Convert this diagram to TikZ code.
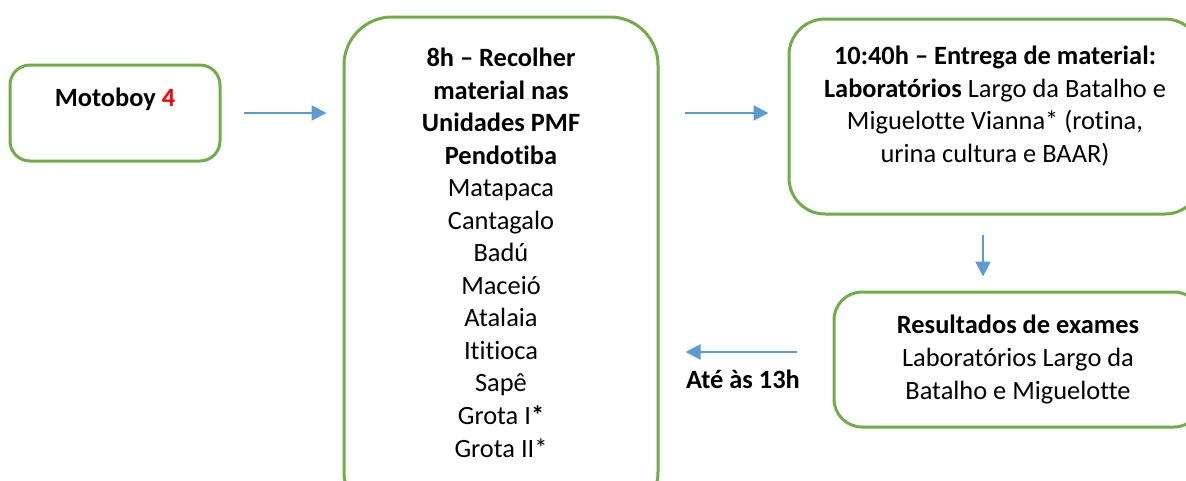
\documentclass[tikz,border=0pt]{standalone}
\usepackage{fontspec}
\setmainfont{Carlito}[Ligatures=NoCommon]
\usepackage{xcolor}
\usetikzlibrary{arrows.meta}
\definecolor{verde}{HTML}{70AD47}
\definecolor{azul}{HTML}{5B9BD5}
\definecolor{vermelho}{HTML}{FF0000}
\tikzset{
  caixa/.style={draw=verde, line width=2.25pt, fill=white, inner sep=0pt},
  texto/.style={inner sep=0pt, align=center, font=\fontsize{19.8pt}{24.4pt}\selectfont},
  seta/.style={draw=azul, line width=1.6pt, -{Triangle[length=11.25pt,width=11.25pt]}}
}

\begin{document}
\begin{tikzpicture}[x=0.75pt, y=-0.75pt]
  \useasboundingbox (0,0) rectangle (1186,480);
  \clip (0,0) rectangle (1186,480);

  % Motoboy box
  \node[caixa, rounded corners=15pt, minimum width=157.5pt, minimum height=72pt] (moto) at (115,113) {};
  \node[texto, anchor=base] (motoT) at (115,106) {\textbf{Motoboy \textcolor{vermelho}{4}}};

  % collection box (runs off the bottom), text placed by its last line
  \node[caixa, rounded corners=36pt, minimum width=235.5pt, minimum height=377.25pt] (recolher) at (501,268.5) {};
  \node[texto, anchor=base] (recolherT) at (501,457) {\textbf{8h – Recolher}\\ \textbf{material nas}\\ \textbf{Unidades PMF}\\ \textbf{Pendotiba}\\
    Matapaca\\ Cantagalo\\ Badú\\ Maceió\\ Atalaia\\ Ititioca\\ Sapê\\ Grota I\textbf{*}\\ Grota II*};

  % delivery box (runs off the right)
  \node[caixa, rounded corners=27pt, minimum width=309pt, minimum height=146.25pt] (entrega) at (995,116.5) {};
  \node[texto, anchor=base] (entregaT) at (995,162.5) {\textbf{10:40h – Entrega de material:}\\ \textbf{Laboratórios} Largo da Batalho e\\
    Miguelotte Vianna* (rotina,\\ urina cultura e BAAR)};

  % results box
  \node[caixa, rounded corners=21pt, minimum width=276pt, minimum height=101.25pt] (resultados) at (1018,359.5) {};
  \node[texto, anchor=base] (resultadosT) at (1018,399) {\textbf{Resultados de exames}\\ Laboratórios Largo da\\ Batalho e Miguelotte};

  \node[texto, anchor=base] (ate) at (743,388) {\textbf{Até às 13h}};

  % arrows
  \draw[seta, shorten <=16.5pt, shorten >=12pt] (moto.east) -- (recolher.west |- moto.east);
  \draw[seta, shorten <=18.75pt, shorten >=14.25pt] (recolher.east |- moto.east) -- (entrega.west |- moto.east);
  \draw[seta, shorten <=14.25pt, shorten >=10.5pt] ([xshift=-9pt]entrega.south) -- ([xshift=-9pt]entrega.south |- resultados.north);
  \draw[seta, shorten <=27pt, shorten >=19.5pt] ([yshift=5.625pt]resultados.west) -- ([yshift=5.625pt]resultados.west -| recolher.east);
\end{tikzpicture}
\end{document}
